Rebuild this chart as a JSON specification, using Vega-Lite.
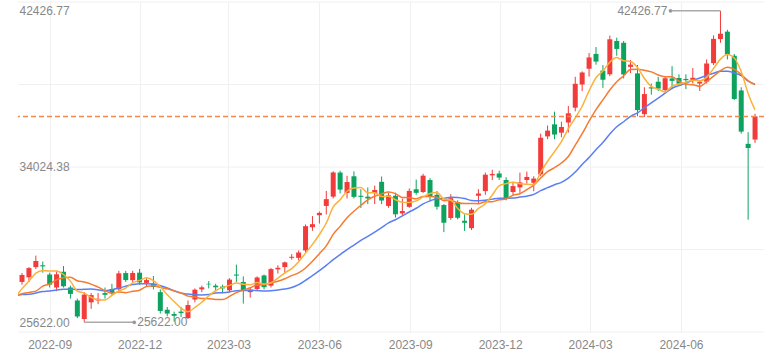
{
  "$schema": "https://vega.github.io/schema/vega-lite/v6.json",
  "width": 746,
  "height": 330,
  "autosize": "none",
  "padding": {"left": 18, "top": 2, "right": 10, "bottom": 27},
  "background": "white",
  "config": {"view": {"stroke": null}, "font": "Liberation Sans"},
  "datasets": {
    "grid": [{"v": 25100}, {"v": 29550}, {"v": 34000}, {"v": 38450}, {"v": 42900}],
    "weeks": [
      {"date": "2022-03-24", "close": 28149.84},
      {"date": "2022-03-31", "close": 27665.98},
      {"date": "2022-04-07", "close": 26985.8},
      {"date": "2022-04-14", "close": 27093.19},
      {"date": "2022-04-21", "close": 27105.26},
      {"date": "2022-04-28", "close": 26847.9},
      {"date": "2022-05-05", "close": 27003.56},
      {"date": "2022-05-12", "close": 26427.65},
      {"date": "2022-05-19", "close": 26739.03},
      {"date": "2022-05-26", "close": 26781.68},
      {"date": "2022-06-02", "close": 27761.57},
      {"date": "2022-06-09", "close": 28246.53},
      {"date": "2022-06-16", "close": 25963},
      {"date": "2022-06-23", "close": 26491.97},
      {"date": "2022-06-30", "close": 25935.62},
      {"date": "2022-07-07", "close": 26517.19},
      {"date": "2022-07-14", "close": 26788.47},
      {"date": "2022-07-21", "close": 27914.66},
      {"date": "2022-07-28", "close": 27801.64},
      {"date": "2022-08-04", "open": 27800, "high": 28280, "low": 27650, "close": 28175},
      {"date": "2022-08-11", "open": 28050, "high": 28600, "low": 27800, "close": 28546},
      {"date": "2022-08-18", "open": 28600, "high": 29222, "low": 28500, "close": 28930},
      {"date": "2022-08-25", "open": 28700, "high": 28900, "low": 28300, "close": 28641},
      {"date": "2022-09-01", "open": 28200, "high": 28300, "low": 27500, "close": 27650},
      {"date": "2022-09-08", "open": 27500, "high": 28370, "low": 27300, "close": 28214},
      {"date": "2022-09-15", "open": 28350, "high": 28659, "low": 27500, "close": 27567},
      {"date": "2022-09-22", "open": 27500, "high": 27600, "low": 26900, "close": 27153},
      {"date": "2022-09-29", "open": 26800, "high": 26900, "low": 25850, "close": 25937},
      {"date": "2022-10-06", "open": 25800, "high": 27250, "low": 25622, "close": 27116},
      {"date": "2022-10-13", "open": 26700, "high": 27200, "low": 26350, "close": 27090},
      {"date": "2022-10-20", "open": 26800, "high": 27200, "low": 26600, "close": 26890},
      {"date": "2022-10-27", "open": 27200, "high": 27500, "low": 26900, "close": 27105},
      {"date": "2022-11-03", "open": 27420, "high": 27700, "low": 27100, "close": 27199},
      {"date": "2022-11-10", "open": 27400, "high": 28400, "low": 27300, "close": 28263},
      {"date": "2022-11-17", "open": 28280, "high": 28400, "low": 27800, "close": 27899},
      {"date": "2022-11-24", "open": 27900, "high": 28400, "low": 27800, "close": 28283},
      {"date": "2022-12-01", "open": 28300, "high": 28500, "low": 27650, "close": 27777},
      {"date": "2022-12-08", "open": 27750, "high": 28000, "low": 27550, "close": 27901},
      {"date": "2022-12-15", "open": 27700, "high": 28120, "low": 27400, "close": 27527},
      {"date": "2022-12-22", "open": 27250, "high": 27400, "low": 26100, "close": 26235},
      {"date": "2022-12-29", "open": 26300, "high": 26450, "low": 25950, "close": 26094},
      {"date": "2023-01-05", "open": 26070, "high": 26200, "low": 25661, "close": 25973},
      {"date": "2023-01-12", "open": 26200, "high": 26450, "low": 25900, "close": 26119},
      {"date": "2023-01-19", "open": 25850, "high": 26800, "low": 25800, "close": 26553},
      {"date": "2023-01-26", "open": 26850, "high": 27450, "low": 26700, "close": 27382},
      {"date": "2023-02-02", "open": 27400, "high": 27600, "low": 27250, "close": 27509},
      {"date": "2023-02-09", "open": 27700, "high": 27850, "low": 27450, "close": 27670},
      {"date": "2023-02-16", "open": 27600, "high": 27700, "low": 27300, "close": 27513},
      {"date": "2023-02-23", "open": 27550, "high": 27650, "low": 27200, "close": 27453},
      {"date": "2023-03-02", "open": 27350, "high": 28000, "low": 27250, "close": 27927},
      {"date": "2023-03-09", "open": 28200, "high": 28734, "low": 27800, "close": 28143},
      {"date": "2023-03-16", "open": 27800, "high": 28100, "low": 26632, "close": 27333},
      {"date": "2023-03-23", "open": 27250, "high": 27500, "low": 26950, "close": 27385},
      {"date": "2023-03-30", "open": 27420, "high": 28100, "low": 27300, "close": 28041},
      {"date": "2023-04-06", "open": 28150, "high": 28200, "low": 27400, "close": 27518},
      {"date": "2023-04-13", "open": 27600, "high": 28550, "low": 27500, "close": 28493},
      {"date": "2023-04-20", "open": 28480, "high": 28700, "low": 28250, "close": 28564},
      {"date": "2023-04-27", "open": 28600, "high": 28900, "low": 28241, "close": 28856},
      {"date": "2023-05-04", "open": 29100, "high": 29300, "low": 29000, "close": 29157},
      {"date": "2023-05-11", "open": 29100, "high": 29500, "low": 28950, "close": 29388},
      {"date": "2023-05-18", "open": 29500, "high": 30900, "low": 29400, "close": 30808},
      {"date": "2023-05-25", "open": 30750, "high": 31352, "low": 30558, "close": 30916},
      {"date": "2023-06-01", "open": 31400, "high": 31600, "low": 30950, "close": 31524},
      {"date": "2023-06-08", "open": 31900, "high": 32708, "low": 31439, "close": 32265},
      {"date": "2023-06-15", "open": 32400, "high": 33772, "low": 32300, "close": 33706},
      {"date": "2023-06-22", "open": 33700, "high": 33800, "low": 32575, "close": 32781},
      {"date": "2023-06-29", "open": 32600, "high": 33527, "low": 32306, "close": 33189},
      {"date": "2023-07-06", "open": 33500, "high": 33762, "low": 32300, "close": 32388},
      {"date": "2023-07-13", "open": 32450, "high": 32800, "low": 31791, "close": 32391},
      {"date": "2023-07-20", "open": 32400, "high": 32900, "low": 32000, "close": 32304},
      {"date": "2023-07-27", "open": 32600, "high": 33000, "low": 32000, "close": 32759},
      {"date": "2023-08-03", "open": 33200, "high": 33488, "low": 32000, "close": 32192},
      {"date": "2023-08-10", "open": 31900, "high": 32600, "low": 31800, "close": 32473},
      {"date": "2023-08-17", "open": 32450, "high": 32613, "low": 31275, "close": 31450},
      {"date": "2023-08-24", "open": 31500, "high": 32300, "low": 31400, "close": 31624},
      {"date": "2023-08-31", "open": 31850, "high": 32845, "low": 31800, "close": 32710},
      {"date": "2023-09-07", "open": 32800, "high": 33322, "low": 32500, "close": 32606},
      {"date": "2023-09-14", "open": 32650, "high": 33634, "low": 32600, "close": 33533},
      {"date": "2023-09-21", "open": 33300, "high": 33400, "low": 32154, "close": 32402},
      {"date": "2023-09-28", "open": 32500, "high": 32700, "low": 31700, "close": 31857},
      {"date": "2023-10-05", "open": 31950, "high": 32000, "low": 30487, "close": 30994},
      {"date": "2023-10-12", "open": 31250, "high": 32533, "low": 31150, "close": 32315},
      {"date": "2023-10-19", "open": 32100, "high": 32200, "low": 31170, "close": 31259},
      {"date": "2023-10-26", "open": 31100, "high": 31450, "low": 30551, "close": 30991},
      {"date": "2023-11-02", "open": 30700, "high": 31800, "low": 30600, "close": 31700},
      {"date": "2023-11-09", "open": 32450, "high": 32800, "low": 32050, "close": 32568},
      {"date": "2023-11-16", "open": 32700, "high": 33700, "low": 32500, "close": 33585},
      {"date": "2023-11-23", "open": 33550, "high": 33853, "low": 33300, "close": 33625},
      {"date": "2023-11-30", "open": 33650, "high": 33800, "low": 33300, "close": 33431},
      {"date": "2023-12-07", "open": 33300, "high": 33450, "low": 32200, "close": 32307},
      {"date": "2023-12-14", "open": 32650, "high": 33200, "low": 32500, "close": 32970},
      {"date": "2023-12-21", "open": 32900, "high": 33700, "low": 32600, "close": 33169},
      {"date": "2023-12-28", "open": 33300, "high": 33755, "low": 33100, "close": 33464},
      {"date": "2024-01-04", "open": 33150, "high": 33500, "low": 32693, "close": 33377},
      {"date": "2024-01-11", "open": 33600, "high": 35800, "low": 33500, "close": 35577},
      {"date": "2024-01-18", "open": 35650, "high": 36239, "low": 35500, "close": 35963},
      {"date": "2024-01-25", "open": 36300, "high": 36984, "low": 35500, "close": 35751},
      {"date": "2024-02-01", "open": 35850, "high": 36441, "low": 35600, "close": 36158},
      {"date": "2024-02-08", "open": 36400, "high": 37287, "low": 35854, "close": 36897},
      {"date": "2024-02-15", "open": 37200, "high": 38865, "low": 37000, "close": 38487},
      {"date": "2024-02-22", "open": 38450, "high": 39156, "low": 38095, "close": 39098},
      {"date": "2024-02-29", "open": 39300, "high": 40150, "low": 38876, "close": 39910},
      {"date": "2024-03-07", "open": 40100, "high": 40472, "low": 39518, "close": 39688},
      {"date": "2024-03-14", "open": 39200, "high": 39500, "low": 38271, "close": 38707},
      {"date": "2024-03-21", "open": 39000, "high": 41087, "low": 38900, "close": 40888},
      {"date": "2024-03-28", "open": 40800, "high": 40979, "low": 40000, "close": 40369},
      {"date": "2024-04-04", "open": 40700, "high": 40800, "low": 38774, "close": 38992},
      {"date": "2024-04-11", "open": 39400, "high": 39774, "low": 39065, "close": 39523},
      {"date": "2024-04-18", "open": 39050, "high": 39500, "low": 36733, "close": 37068},
      {"date": "2024-04-25", "open": 36850, "high": 38300, "low": 36700, "close": 37934},
      {"date": "2024-05-02", "open": 38300, "high": 38500, "low": 37900, "close": 38236},
      {"date": "2024-05-09", "open": 38600, "high": 38863, "low": 38100, "close": 38229},
      {"date": "2024-05-16", "open": 38150, "high": 38850, "low": 38000, "close": 38787},
      {"date": "2024-05-23", "open": 38780, "high": 39437, "low": 38200, "close": 38646},
      {"date": "2024-05-30", "open": 38800, "high": 39000, "low": 38400, "close": 38487},
      {"date": "2024-06-06", "open": 38750, "high": 39000, "low": 38200, "close": 38683},
      {"date": "2024-06-13", "open": 38700, "high": 39336, "low": 38500, "close": 38814},
      {"date": "2024-06-20", "open": 38500, "high": 38700, "low": 38100, "close": 38596},
      {"date": "2024-06-27", "open": 38600, "high": 39800, "low": 38500, "close": 39583},
      {"date": "2024-07-04", "open": 39600, "high": 41100, "low": 39500, "close": 40912},
      {"date": "2024-07-11", "open": 40900, "high": 42426.77, "low": 40700, "close": 41190},
      {"date": "2024-07-18", "open": 41300, "high": 41400, "low": 39800, "close": 40063},
      {"date": "2024-07-25", "open": 40000, "high": 40100, "low": 37611, "close": 37667},
      {"date": "2024-08-01", "open": 38130, "high": 38300, "low": 35800, "close": 35909},
      {"date": "2024-08-08", "open": 35249, "high": 35880, "low": 31156, "close": 35025},
      {"date": "2024-08-15", "open": 35480, "high": 36870, "low": 35300, "close": 36726.64}
    ]
  },
  "data": {"name": "weeks"},
  "layer": [
    {
      "data": {"name": "grid"},
      "mark": {"type": "rule", "color": "#f0f0f0", "strokeWidth": 1},
      "encoding": {
        "y": {
          "field": "v", "type": "quantitative",
          "scale": {"domain": [25100, 42900], "nice": false, "zero": false},
          "axis": {
            "title": null, "values": [25622, 34024.38, 42426.77], "format": ".2f",
            "grid": false, "ticks": false, "tickSize": 0, "domain": false,
            "labelAlign": "left", "labelBaseline": "middle", "labelPadding": -1,
            "labelColor": "#888888", "labelFontSize": 12, "labelFont": "Liberation Sans",
            "labelOverlap": false, "labelFlush": false, "zindex": 2
          }
        }
      }
    },
    {
      "transform": [{"filter": {"field": "open", "valid": true}}],
      "mark": {"type": "rule", "strokeWidth": 1, "clip": true},
      "encoding": {
        "x": {
          "field": "date", "type": "temporal",
          "scale": {"type": "utc", "domain": [{"year": 2022, "month": 8, "date": 5, "utc": true}, {"year": 2024, "month": 8, "date": 19, "utc": true}]},
          "axis": {
            "title": null, "format": "%Y-%m", "grid": true, "gridColor": "#f0f0f0",
            "ticks": false, "tickSize": 0, "domain": false, "labelPadding": 7,
            "labelColor": "#888888", "labelFontSize": 12, "labelFont": "Liberation Sans",
            "labelFlush": false, "labelOverlap": false,
            "values": [
              {"year": 2022, "month": 9, "date": 1, "utc": true},
              {"year": 2022, "month": 12, "date": 1, "utc": true},
              {"year": 2023, "month": 3, "date": 1, "utc": true},
              {"year": 2023, "month": 6, "date": 1, "utc": true},
              {"year": 2023, "month": 9, "date": 1, "utc": true},
              {"year": 2023, "month": 12, "date": 1, "utc": true},
              {"year": 2024, "month": 3, "date": 1, "utc": true},
              {"year": 2024, "month": 6, "date": 1, "utc": true}
            ]
          }
        },
        "y": {"field": "low", "type": "quantitative", "title": null},
        "y2": {"field": "high"},
        "color": {"condition": {"test": "datum.close >= datum.open", "value": "#f23b3b"}, "value": "#0da35e"}
      }
    },
    {
      "transform": [{"filter": {"field": "open", "valid": true}}],
      "mark": {"type": "bar", "size": 5, "clip": true},
      "encoding": {
        "x": {"field": "date", "type": "temporal", "scale": {"type": "utc", "domain": [{"year": 2022, "month": 8, "date": 5, "utc": true}, {"year": 2024, "month": 8, "date": 19, "utc": true}]}},
        "y": {"field": "open", "type": "quantitative", "title": null},
        "y2": {"field": "close"},
        "color": {"condition": {"test": "datum.close >= datum.open", "value": "#f23b3b"}, "value": "#0da35e"}
      }
    },
    {
      "transform": [{"window": [{"op": "mean", "field": "close", "as": "ma20"}], "frame": [-19, 0], "sort": [{"field": "date"}]}],
      "mark": {"type": "line", "color": "#5b7ff0", "strokeWidth": 1.5, "interpolate": "monotone", "clip": true},
      "encoding": {
        "x": {"field": "date", "type": "temporal", "scale": {"type": "utc", "domain": [{"year": 2022, "month": 8, "date": 5, "utc": true}, {"year": 2024, "month": 8, "date": 19, "utc": true}]}},
        "y": {"field": "ma20", "type": "quantitative", "title": null}
      }
    },
    {
      "transform": [{"window": [{"op": "mean", "field": "close", "as": "ma10"}], "frame": [-9, 0], "sort": [{"field": "date"}]}],
      "mark": {"type": "line", "color": "#f57b30", "strokeWidth": 1.5, "interpolate": "monotone", "clip": true},
      "encoding": {
        "x": {"field": "date", "type": "temporal", "scale": {"type": "utc", "domain": [{"year": 2022, "month": 8, "date": 5, "utc": true}, {"year": 2024, "month": 8, "date": 19, "utc": true}]}},
        "y": {"field": "ma10", "type": "quantitative", "title": null}
      }
    },
    {
      "transform": [{"window": [{"op": "mean", "field": "close", "as": "ma5"}], "frame": [-4, 0], "sort": [{"field": "date"}]}],
      "mark": {"type": "line", "color": "#fbb23a", "strokeWidth": 1.5, "interpolate": "monotone", "clip": true},
      "encoding": {
        "x": {"field": "date", "type": "temporal", "scale": {"type": "utc", "domain": [{"year": 2022, "month": 8, "date": 5, "utc": true}, {"year": 2024, "month": 8, "date": 19, "utc": true}]}},
        "y": {"field": "ma5", "type": "quantitative", "title": null}
      }
    },
    {
      "transform": [{"filter": {"field": "date", "equal": "2024-08-15"}}],
      "mark": {"type": "rule", "color": "#f5894d", "strokeWidth": 1.5, "strokeDash": [5, 3]},
      "encoding": {
        "y": {"field": "close", "type": "quantitative", "title": null}
      }
    },
    {
      "transform": [{"filter": {"field": "high", "equal": 42426.77}}],
      "mark": {"type": "rule", "color": "#aaaaaa", "strokeWidth": 1.5, "x2Offset": -50},
      "encoding": {
        "x": {"field": "date", "type": "temporal", "scale": {"type": "utc", "domain": [{"year": 2022, "month": 8, "date": 5, "utc": true}, {"year": 2024, "month": 8, "date": 19, "utc": true}]}},
        "x2": {"field": "date"},
        "y": {"field": "high", "type": "quantitative", "title": null}
      }
    },
    {
      "transform": [{"filter": {"field": "high", "equal": 42426.77}}],
      "mark": {"type": "point", "filled": true, "color": "#999999", "size": 14, "opacity": 1, "xOffset": -50},
      "encoding": {
        "x": {"field": "date", "type": "temporal", "scale": {"type": "utc", "domain": [{"year": 2022, "month": 8, "date": 5, "utc": true}, {"year": 2024, "month": 8, "date": 19, "utc": true}]}},
        "y": {"field": "high", "type": "quantitative", "title": null}
      }
    },
    {
      "transform": [{"filter": {"field": "high", "equal": 42426.77}}],
      "mark": {"type": "text", "align": "right", "baseline": "middle", "dx": -53, "color": "#888888", "fontSize": 12, "font": "Liberation Sans"},
      "encoding": {
        "x": {"field": "date", "type": "temporal", "scale": {"type": "utc", "domain": [{"year": 2022, "month": 8, "date": 5, "utc": true}, {"year": 2024, "month": 8, "date": 19, "utc": true}]}},
        "y": {"field": "high", "type": "quantitative", "title": null},
        "text": {"field": "high", "type": "quantitative", "format": ".2f"}
      }
    },
    {
      "transform": [{"filter": {"field": "low", "equal": 25622}}],
      "mark": {"type": "rule", "color": "#aaaaaa", "strokeWidth": 1.5, "x2Offset": 50},
      "encoding": {
        "x": {"field": "date", "type": "temporal", "scale": {"type": "utc", "domain": [{"year": 2022, "month": 8, "date": 5, "utc": true}, {"year": 2024, "month": 8, "date": 19, "utc": true}]}},
        "x2": {"field": "date"},
        "y": {"field": "low", "type": "quantitative", "title": null}
      }
    },
    {
      "transform": [{"filter": {"field": "low", "equal": 25622}}],
      "mark": {"type": "point", "filled": true, "color": "#999999", "size": 14, "opacity": 1, "xOffset": 50},
      "encoding": {
        "x": {"field": "date", "type": "temporal", "scale": {"type": "utc", "domain": [{"year": 2022, "month": 8, "date": 5, "utc": true}, {"year": 2024, "month": 8, "date": 19, "utc": true}]}},
        "y": {"field": "low", "type": "quantitative", "title": null}
      }
    },
    {
      "transform": [{"filter": {"field": "low", "equal": 25622}}],
      "mark": {"type": "text", "align": "left", "baseline": "middle", "dx": 53, "color": "#888888", "fontSize": 12, "font": "Liberation Sans"},
      "encoding": {
        "x": {"field": "date", "type": "temporal", "scale": {"type": "utc", "domain": [{"year": 2022, "month": 8, "date": 5, "utc": true}, {"year": 2024, "month": 8, "date": 19, "utc": true}]}},
        "y": {"field": "low", "type": "quantitative", "title": null},
        "text": {"field": "low", "type": "quantitative", "format": ".2f"}
      }
    }
  ]
}
